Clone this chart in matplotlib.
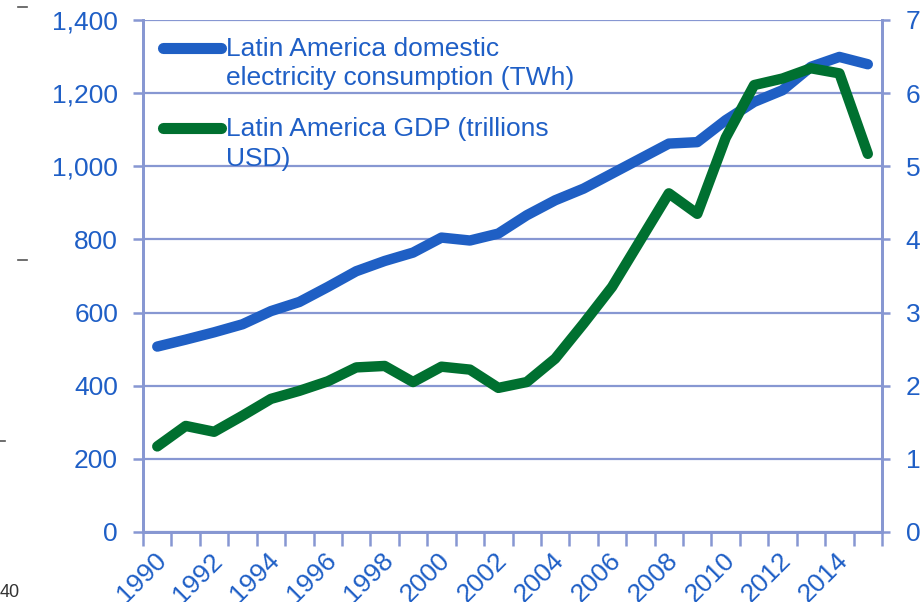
import numpy as np
import matplotlib.pyplot as plt
from matplotlib.lines import Line2D
from matplotlib.transforms import ScaledTranslation
from matplotlib.ticker import FuncFormatter, MultipleLocator

plt.rcParams['font.family'] = ['Liberation Sans', 'DejaVu Sans']

#----------------------------Data---------------------------------------

years = list(range(1990, 2016))

# Domestic electricity consumption (TWh), left axis
electricity = [507, 526, 546, 568, 604, 629, 670, 713, 741, 764,
               805, 797, 816, 866, 907, 939, 980, 1021, 1062, 1066,
               1126, 1176, 1208, 1272, 1299, 1279]

# GDP (trillions USD), right axis
gdp = [1.17, 1.45, 1.37, 1.59, 1.82, 1.93, 2.06, 2.25, 2.27, 2.05,
       2.26, 2.22, 1.97, 2.05, 2.37, 2.85, 3.35, 3.99, 4.63, 4.35,
       5.39, 6.11, 6.20, 6.34, 6.27, 5.17]

legend_labels = ['Latin America domestic\nelectricity consumption (TWh)',
                 'Latin America GDP (trillions\nUSD)']

#----------------------------Styles---------------------------------------

text_blue = '#1f5fc6'
axis_col = '#8797d2'
blue = '#1f5fc4'
green = '#007030'
fs = 19

fig = plt.figure(figsize=(9.23, 6.02), dpi=100)
ax = fig.add_axes([0.155, 0.1163, 0.8006, 0.8505])
ax2 = ax.twinx()

ax.plot(years, electricity, color=blue, lw=7.5, solid_capstyle='round',
        solid_joinstyle='round', zorder=3)
ax2.plot(years, gdp, color=green, lw=7.5, solid_capstyle='round',
         solid_joinstyle='round', zorder=3)

ax.set_xlim(1989.5, 2015.5)
ax.set_ylim(0, 1400)
ax2.set_ylim(0, 7)

ax.yaxis.set_major_locator(MultipleLocator(200))
ax.yaxis.set_major_formatter(FuncFormatter(lambda v, p: '{:,.0f}'.format(v)))
ax2.yaxis.set_major_locator(MultipleLocator(1))

# year labels every two years, tick marks between categories
ax.set_xticks(years[::2])
ax.set_xticklabels([str(y) for y in years[::2]], rotation=45, ha='right',
                   va='center', rotation_mode='anchor')
ax.set_xticks(np.arange(1989.5, 2016, 1), minor=True)
ax.tick_params(axis='x', which='major', length=0, pad=18, labelsize=fs,
               labelcolor=text_blue)
ax.tick_params(axis='x', which='minor', length=10, width=1.8, color=axis_col,
               direction='out')
ax.tick_params(axis='y', length=7, width=1.8, color=axis_col, pad=11,
               labelsize=fs, labelcolor=text_blue)
ax2.tick_params(axis='y', length=6, width=1.8, color=axis_col, pad=11,
                labelsize=fs, labelcolor=text_blue)

# nudge the slanted year labels a little to the right
shift = ScaledTranslation(5 / 100, 0, fig.dpi_scale_trans)
for lbl in ax.get_xticklabels():
    lbl.set_transform(lbl.get_transform() + shift)

ax.grid(axis='y', color=axis_col, lw=1.6)
ax.set_axisbelow(True)

for a in (ax, ax2):
    a.spines['top'].set_visible(False)
    for s in ('left', 'right', 'bottom'):
        a.spines[s].set_color(axis_col)
        a.spines[s].set_linewidth(2)

# legend drawn by hand so the line sits on the first text row
for lab, col, yy, ty in zip(legend_labels, [blue, green], [0.945, 0.789],
                            [0.967, 0.810]):
    ax.add_line(Line2D([0.027, 0.106], [yy, yy], transform=ax.transAxes,
                       color=col, lw=8, solid_capstyle='round', zorder=4))
    ax.text(0.112, ty, lab, transform=ax.transAxes, ha='left',
            va='top', fontsize=fs, color=text_blue, linespacing=1.28,
            zorder=4)

# bits of the neighbouring panel at the left edge
fig.text(0.0, 0.008, '40', fontsize=13, color='#333333')
fig.add_artist(Line2D([0.020, 0.029], [0.988, 0.988], color='#555555', lw=1.2))
fig.add_artist(Line2D([0.020, 0.029], [0.568, 0.568], color='#555555', lw=1.2))
fig.add_artist(Line2D([0.0, 0.005], [0.268, 0.268], color='#555555', lw=1.2))

fig.savefig('out.png', dpi=100)
